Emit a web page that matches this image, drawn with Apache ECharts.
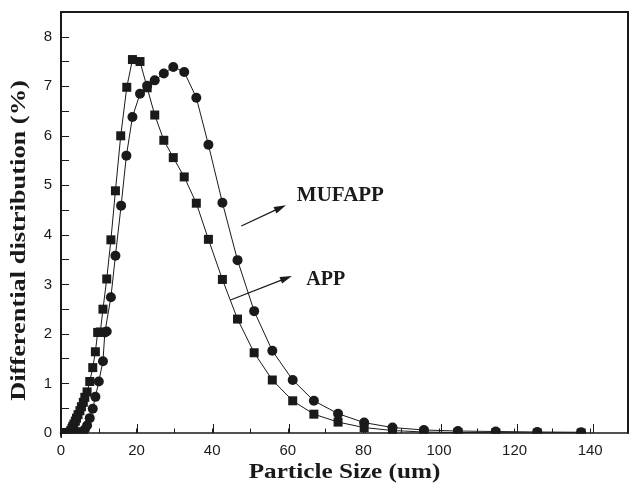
<!DOCTYPE html>
<html>
<head>
<meta charset="utf-8">
<script src="https://cdn.jsdelivr.net/npm/echarts@6/dist/echarts.min.js"></script>
<style>
html,body{margin:0;padding:0;background:#ffffff;}
#c{width:631px;height:492px;}
</style>
</head>
<body>
<div id="c"></div>
<script>
// ---- data ----
const appSize = [1.0,1.1,1.2,1.3,1.45,1.6,1.75,1.9,2.05,2.2,
  2.4,2.6,2.9,3.1,3.4,3.8,4.1,4.5,5.0,5.4,5.9,6.3,
  6.9,7.6,8.4,9.1,9.7,10.4,11.1,12.1,13.2,14.4,15.8,17.4,18.9,20.9,22.8,24.8,27.2,29.7,32.6,35.8,
  39.0,42.7,46.7,51.1,55.9,61.3,66.9,73.3,80.2,87.7,96,105,115,126,137.6];
const appValue = [0,0,0,0,0,0,0,0,0,0,
  0.02,0.05,0.09,0.13,0.18,0.24,0.30,0.37,0.45,0.53,0.62,0.72,
  0.83,1.04,1.32,1.64,2.03,2.04,2.50,3.11,3.90,4.89,6.00,6.98,7.54,7.50,6.97,6.42,5.91,5.56,5.17,4.64,
  3.91,3.10,2.30,1.62,1.07,0.65,0.38,0.22,0.11,0.05,0.02,0.01,0.005,0,0];

const mufSize = [1.0,1.1,1.2,1.3,1.45,1.6,1.75,1.9,2.05,2.2,2.4,2.6,2.9,3.1,3.4,3.8,4.1,
  4.5,5.0,5.4,5.9,6.3,6.9,7.6,8.4,9.1,10.0,11.1,11.6,12.1,13.2,14.4,15.9,17.3,18.9,20.9,
  22.8,24.8,27.2,29.7,32.6,35.8,39.0,42.7,46.7,51.1,55.9,61.3,66.9,73.3,80.2,87.7,96,105,115,126,137.6];
const mufValue = [0,0,0,0,0,0,0,0,0,0,0,0,0,0,0,0,0,
  0.005,0.01,0.02,0.04,0.07,0.15,0.30,0.49,0.73,1.04,1.45,2.03,2.05,2.74,3.58,4.59,5.60,6.38,6.85,
  7.01,7.12,7.26,7.39,7.29,6.77,5.82,4.65,3.49,2.46,1.66,1.07,0.65,0.39,0.21,0.11,0.06,0.04,0.03,0.02,0.015];

const seriesNames = ['APP', 'MUFAPP'];
const xTitle = 'Particle Size (um)';
const yTitle = 'Differential distribution (%)';
const xMin = 0, xMax = 150, xLabelStep = 20, xMinorStep = 10;
const yMin = 0, yMax = 8.5, yTickStep = 0.5;

// ---- chart ----
const ink = '#1a1a1a';
const sansFont = '"Liberation Sans", Arial, Helvetica, sans-serif';
const serifFont = '"Liberation Serif", "Times New Roman", serif';
const zip = (xs, ys) => xs.map((x, i) => [x, ys[i]]);

const chart = echarts.init(document.getElementById('c'), null, {renderer: 'canvas'});

const hiddenAxisBits = {axisLine: {show: false}, axisTick: {show: false}, axisLabel: {show: false}, splitLine: {show: false}};

const option = {
  animation: false,
  backgroundColor: '#ffffff',
  grid: [
    {left: 61, right: -3, top: 12, bottom: 59, containLabel: false},
    {left: 61, right: -3, top: 12, bottom: 59, containLabel: false}
  ],
  xAxis: [
    {
      type: 'value', gridIndex: 0, position: 'bottom', min: xMin, max: xMax, interval: xMinorStep, z: 200,
      axisLine: {show: true, onZero: false, lineStyle: {color: ink, width: 1.5}},
      axisTick: {show: true, inside: true, length: 4.5, lineStyle: {color: ink, width: 1}},
      axisLabel: {
        show: true, margin: 10, color: ink, fontSize: 15, fontFamily: sansFont,
        formatter: v => (v % xLabelStep === 0 && v < xMax) ? String(v) : ''
      },
      splitLine: {show: false}
    },
    Object.assign({type: 'value', gridIndex: 0, position: 'top', min: xMin, max: xMax, z: 200}, hiddenAxisBits,
      {axisLine: {show: true, onZero: false, lineStyle: {color: ink, width: 2}}}),
    Object.assign({type: 'value', gridIndex: 1, position: 'bottom', min: xMin, max: xMax, interval: xLabelStep, z: 200}, hiddenAxisBits,
      {axisTick: {show: true, inside: true, length: 9, lineStyle: {color: ink, width: 1}}})
  ],
  yAxis: [
    {
      type: 'value', gridIndex: 0, position: 'left', min: yMin, max: yMax, interval: yTickStep, z: 200,
      axisLine: {show: true, onZero: false, lineStyle: {color: ink, width: 2}},
      axisTick: {show: true, inside: true, length: 8, lineStyle: {color: ink, width: 1}},
      axisLabel: {
        show: true, margin: 9, color: ink, fontSize: 15, fontFamily: sansFont,
        formatter: v => (Number.isInteger(v) && v < yMax) ? String(v) : ''
      },
      splitLine: {show: false}
    },
    Object.assign({type: 'value', gridIndex: 0, position: 'right', min: yMin, max: yMax, z: 200}, hiddenAxisBits,
      {axisLine: {show: true, onZero: false, lineStyle: {color: ink, width: 2}}}),
    Object.assign({type: 'value', gridIndex: 1, position: 'left', min: yMin, max: yMax}, hiddenAxisBits)
  ],
  series: [
    {
      name: seriesNames[0], type: 'line', xAxisIndex: 0, yAxisIndex: 0,
      data: zip(appSize, appValue),
      symbol: 'rect', symbolSize: 9, showAllSymbol: true,
      lineStyle: {color: ink, width: 1}, itemStyle: {color: ink},
      emphasis: {disabled: true}, z: 3
    },
    {
      name: seriesNames[1], type: 'line', xAxisIndex: 0, yAxisIndex: 0,
      data: zip(mufSize, mufValue),
      symbol: 'circle', symbolSize: 10, showAllSymbol: true,
      lineStyle: {color: ink, width: 1}, itemStyle: {color: ink},
      emphasis: {disabled: true}, z: 4
    }
  ]
};
chart.setOption(option);

// ---- annotations (placed through the chart's own scales) ----
const P = (pt) => chart.convertToPixel({xAxisIndex: 0, yAxisIndex: 0}, pt);

function arrow(from, to) {
  const p0 = P(from), p1 = P(to);
  const dx = p1[0] - p0[0], dy = p1[1] - p0[1];
  const L = Math.hypot(dx, dy), ux = dx / L, uy = dy / L;
  const hl = 12, hw = 3.5;
  const b = [p1[0] - ux * hl, p1[1] - uy * hl];
  return [
    {type: 'line', z: 300, shape: {x1: p0[0], y1: p0[1], x2: b[0] + ux * 2, y2: b[1] + uy * 2}, style: {stroke: ink, lineWidth: 1.2}},
    {type: 'polygon', z: 300, shape: {points: [p1, [b[0] - uy * hw, b[1] + ux * hw], [b[0] + uy * hw, b[1] - ux * hw]]}, style: {fill: ink}}
  ];
}

const origin = P([xMin, yMin]);
const far = P([xMax, yMax]);
const midX = (origin[0] + far[0]) / 2;
const midY = (origin[1] + far[1]) / 2;
const mufLabel = P([62.4, 4.785]);
const appLabel = P([64.9, 3.10]);

const graphics = [
  // mask below the x axis so markers sitting on zero are cut by the plot edge
  {type: 'rect', z: 100, shape: {x: origin[0] + 1, y: origin[1] + 0.8, width: 640, height: 8}, style: {fill: '#ffffff'}},
  ...arrow([47.7, 4.18], [59.5, 4.60]),
  ...arrow([44.85, 2.685], [61.1, 3.17]),
  {type: 'text', z: 300, x: mufLabel[0], y: mufLabel[1],
    style: {text: seriesNames[1], font: 'bold 21px ' + serifFont, fill: ink, textAlign: 'left', textVerticalAlign: 'middle', align: 'left', verticalAlign: 'middle'}},
  {type: 'text', z: 300, x: appLabel[0], y: appLabel[1],
    style: {text: seriesNames[0], font: 'bold 20px ' + serifFont, fill: ink, textAlign: 'left', textVerticalAlign: 'middle', align: 'left', verticalAlign: 'middle'}},
  {type: 'text', z: 300, x: midX, y: origin[1] + 39.5, scaleX: 1.26,
    style: {text: xTitle, font: 'bold 20px ' + serifFont, fill: ink, textAlign: 'center', textVerticalAlign: 'middle', align: 'center', verticalAlign: 'middle'}},
  {type: 'text', z: 300, x: 20, y: midY + 18, rotation: Math.PI / 2, scaleX: 1.32,
    style: {text: yTitle, font: 'bold 20px ' + serifFont, fill: ink, textAlign: 'center', textVerticalAlign: 'middle', align: 'center', verticalAlign: 'middle'}}
];
chart.setOption({graphic: {elements: graphics}});
</script>
</body>
</html>
